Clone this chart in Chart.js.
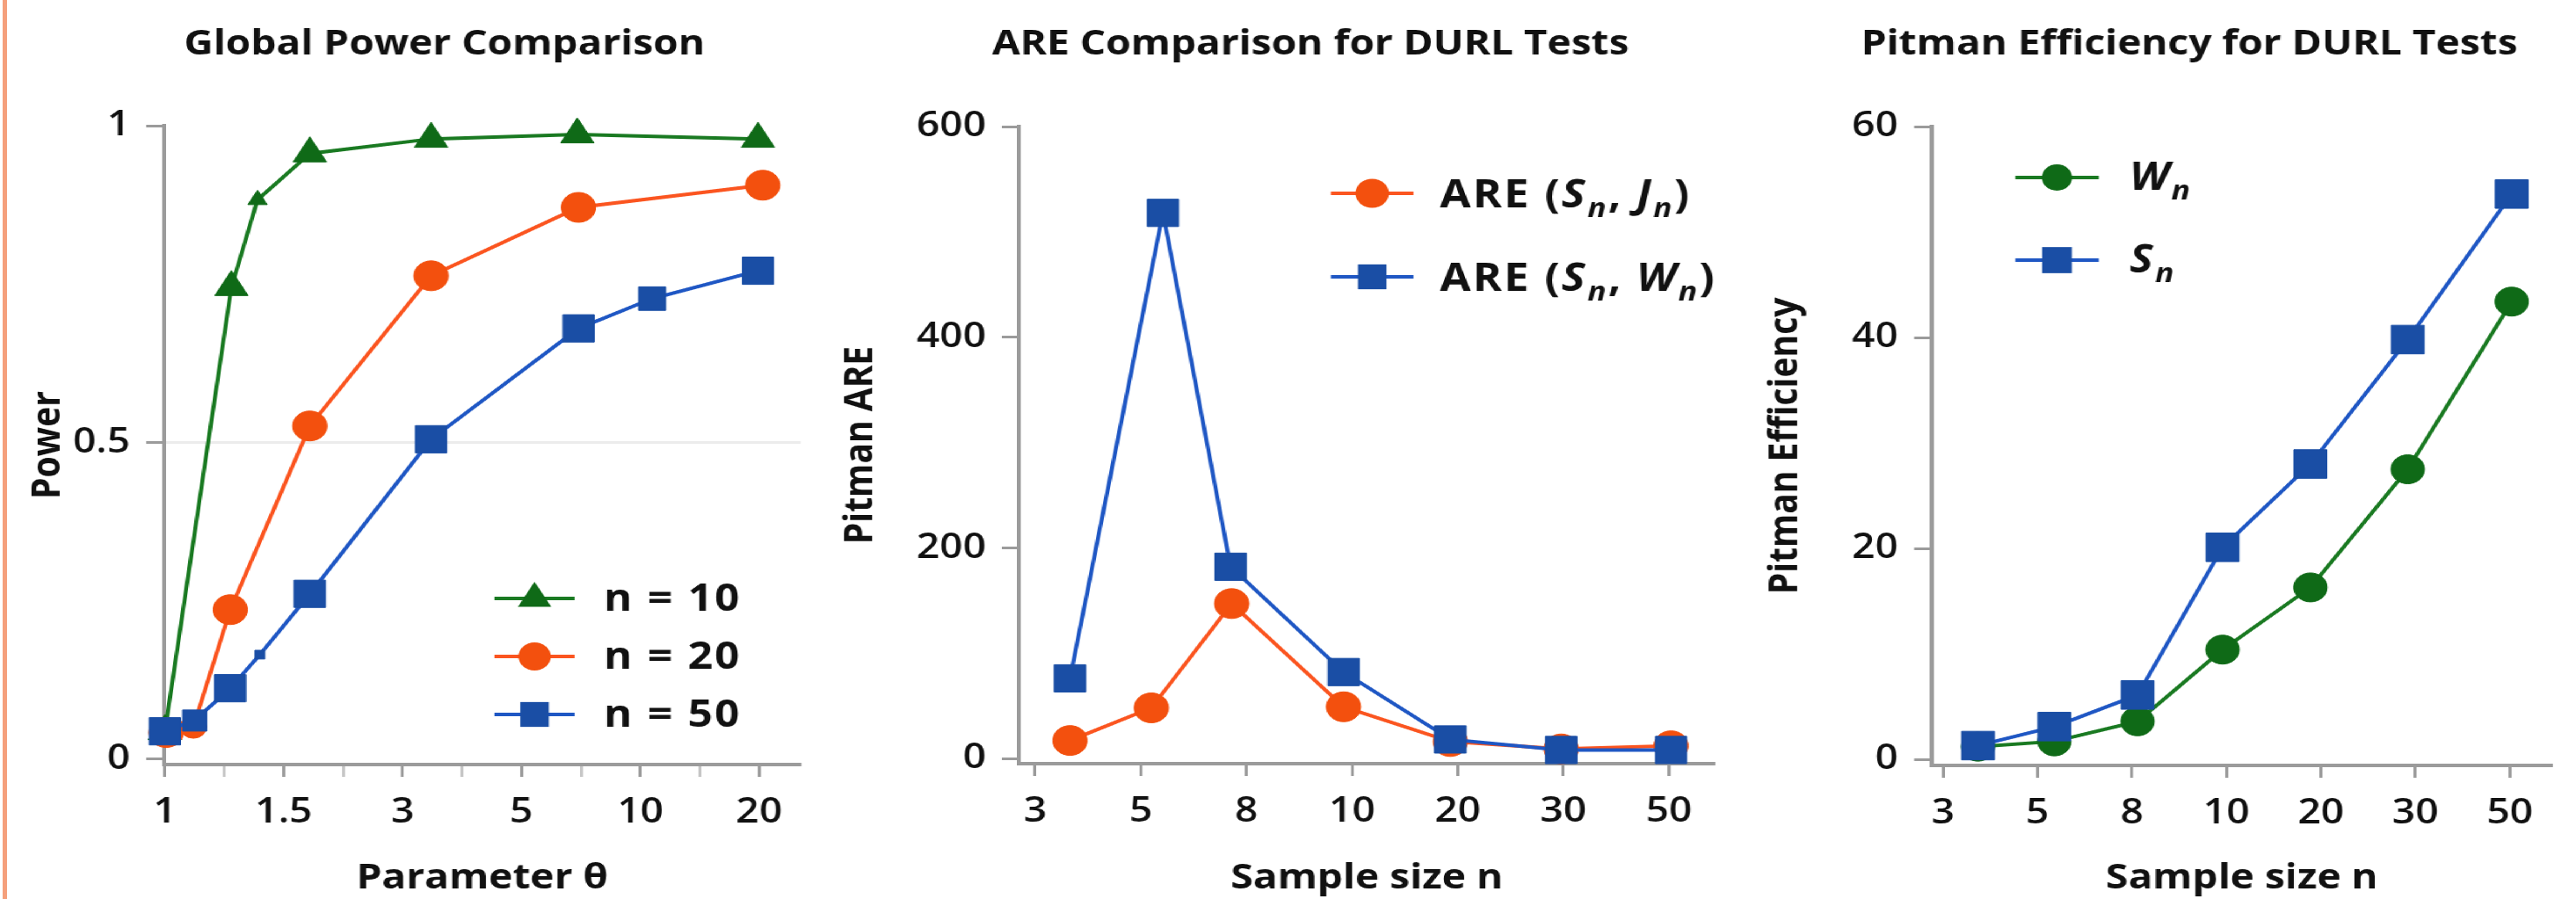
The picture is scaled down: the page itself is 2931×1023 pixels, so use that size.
<!DOCTYPE html>
<html>
<head>
<meta charset="utf-8">
<title>DURL tests: power and efficiency</title>
<script src="https://cdn.jsdelivr.net/npm/chart.js@4.4.1/dist/chart.umd.min.js"></script>
<style>
  html, body { margin: 0; padding: 0; background: #fff; overflow: hidden; }
  body { width: 2931px; height: 1023px; position: relative; }
  #edge { position: absolute; left: 3px; top: 0; width: 5px; height: 1023px; background: #f5a07c; }
  #stage { position: absolute; left: 0; top: 0; height: 1023px; transform-origin: 0 0; }
  .panel { position: absolute; top: 0; height: 1023px; }
</style>
</head>
<body>
<div id="stage"></div>
<div id="edge"></div>
<script>
// ---- values ----
var thetaLabels = ['1', '1.5', '3', '5', '10', '20'];
var sizeLabels = ['3', '5', '8', '10', '20', '30', '50'];
var powerTicks = [0, 0.5, 1];
var areTicks = [0, 200, 400, 600];
var effTicks = [0, 20, 40, 60];

// x = place along the tick ladder (0 = first label, 1 = second label, ...)
var power10X = [0, 0.56, 0.78, 1.22, 2.24, 3.47, 4.99];
var power10 = [0.044, 0.745, 0.883, 0.956, 0.979, 0.986, 0.979];
var power20X = [0.01, 0.24, 0.55, 1.22, 2.24, 3.48, 5.03];
var power20 = [0.042, 0.051, 0.236, 0.526, 0.763, 0.871, 0.906];
var power50X = [0, 0.25, 0.55, 0.8, 1.22, 2.24, 3.48, 4.1, 4.99];
var power50 = [0.044, 0.061, 0.112, 0.165, 0.261, 0.505, 0.68, 0.727, 0.771];

var areSJX = [0.33, 1.1, 1.86, 2.92, 3.93, 4.98, 6.02];
var areSJ = [17, 48, 147, 49, 16, 9, 12];
var areSWX = [0.33, 1.21, 1.85, 2.92, 3.93, 4.98, 6.02];
var areSW = [76, 518, 182, 82, 18, 8, 8];

var effX = [0.37, 1.18, 2.06, 2.96, 3.89, 4.92, 6.02];
var effW = [1.2, 1.7, 3.6, 10.4, 16.3, 27.5, 43.4];
var effS = [1.3, 3.1, 6.1, 20.1, 28, 39.8, 53.6];

var powerNames = ['n = 10', 'n = 20', 'n = 50'];
var areNames = ['ARE (S_n, J_n)', 'ARE (S_n, W_n)'];
var effNames = ['W_n', 'S_n'];

// ---- look ----
var S = 1.15;            // the reference is stretched sideways by about this much
var H = 1023;
var FONT = "'Open Sans', 'DejaVu Sans', sans-serif";
var INK = '#111111';
var AXIS = '#9b9b9b';
var GREEN = '#0f6a17', GREEN_LINE = '#1a7a22';
var ORANGE = '#f3500e', ORANGE_LINE = '#fb5520';
var BLUE = '#1a4ea5', BLUE_LINE = '#1f57c4';

function u(px) { return px / S; }

var stage = document.getElementById('stage');
stage.style.width = u(2931) + 'px';
stage.style.transform = 'scaleX(' + S + ')';

function drawMarker(ctx, style, x, y, r, color) {
  ctx.fillStyle = color;
  ctx.beginPath();
  if (style === 'rect') {
    var h = r * Math.SQRT1_2;
    ctx.rect(x - h, y - h, 2 * h, 2 * h);
  } else if (style === 'triangle') {
    ctx.moveTo(x, y - r);
    ctx.lineTo(x + r * 0.866, y + r / 2);
    ctx.lineTo(x - r * 0.866, y + r / 2);
    ctx.closePath();
  } else {
    ctx.arc(x, y, r, 0, Math.PI * 2);
  }
  ctx.fill();
}

// "S_n" -> italic S with italic subscript n
function drawRich(ctx, label, x, baseline, size) {
  var parts = label.split(/([A-Z])_(\w)/);
  var cx = x;
  ctx.fillStyle = INK;
  ctx.textAlign = 'left';
  ctx.textBaseline = 'alphabetic';
  if ('letterSpacing' in ctx) ctx.letterSpacing = '2px';
  for (var i = 0; i < parts.length; i++) {
    var kind = i % 3;
    var t = parts[i];
    if (!t) continue;
    var fs = kind === 2 ? size * 0.7 : size;
    ctx.font = (kind ? 'italic ' : '') + 'bold ' + fs + 'px ' + FONT;
    ctx.fillText(t, cx, baseline + (kind === 2 ? size * 0.26 : 0));
    cx += ctx.measureText(t).width;
  }
}

var panelTitle = {
  id: 'panelTitle',
  afterDraw: function (chart, args, o) {
    var ctx = chart.ctx;
    ctx.save();
    ctx.font = 'bold 40px ' + FONT;
    ctx.fillStyle = INK;
    ctx.textAlign = 'center';
    ctx.textBaseline = 'alphabetic';
    ctx.fillText(o.text, o.x, o.y);
    ctx.restore();
  }
};

var lineLegend = {
  id: 'lineLegend',
  afterDraw: function (chart, args, o) {
    var ctx = chart.ctx;
    chart.data.datasets.forEach(function (ds, row) {
      var y = o.y + row * o.gap;
      ctx.save();
      ctx.strokeStyle = ds.borderColor;
      ctx.lineWidth = 4;
      ctx.beginPath();
      ctx.moveTo(o.x, y);
      ctx.lineTo(o.x + o.len, y);
      ctx.stroke();
      drawMarker(ctx, ds.pointStyle, o.x + o.len / 2, y, o.r[row], ds.pointBackgroundColor);
      drawRich(ctx, ds.label, o.textX, y + o.base, o.size);
      ctx.restore();
    });
  }
};

function series(name, xs, ys, style, fill, line, radius, order) {
  return {
    label: name,
    data: xs.map(function (x, i) { return { x: x, y: ys[i] }; }),
    borderColor: line,
    backgroundColor: fill,
    pointBackgroundColor: fill,
    pointBorderColor: fill,
    borderWidth: 4,
    pointBorderWidth: 1,
    pointStyle: style,
    pointRadius: radius,
    pointHoverRadius: radius,
    tension: 0,
    clip: false,
    order: order
  };
}

function panel(p) {
  var box = document.createElement('div');
  box.className = 'panel';
  box.style.left = u(p.left) + 'px';
  box.style.width = u(p.width) + 'px';
  var canvas = document.createElement('canvas');
  box.appendChild(canvas);
  stage.appendChild(box);

  var tickFont = { family: FONT, size: 40, weight: '600' };

  return new Chart(canvas, {
    type: 'line',
    data: { datasets: p.datasets },
    options: {
      responsive: true,
      maintainAspectRatio: false,
      animation: false,
      events: [],
      layout: { padding: { top: p.top, right: u(p.left + p.width - p.right), bottom: 0, left: 0 } },
      plugins: {
        legend: { display: false },
        tooltip: { enabled: false },
        panelTitle: { text: p.title, x: u(p.titleX - p.left), y: 62 },
        lineLegend: {
          x: u(p.legend.x - p.left), len: u(p.legend.len), textX: u(p.legend.textX - p.left),
          y: p.legend.y, gap: p.legend.gap, base: p.legend.base, size: p.legend.size, r: p.legend.r
        }
      },
      scales: {
        x: {
          type: 'linear',
          bounds: 'data',
          min: p.xMin,
          max: p.xMax,
          afterFit: function (s) { s.height = H - p.bottom; },
          afterBuildTicks: function (s) { s.ticks = p.xTicks.map(function (v) { return { value: v }; }); },
          ticks: {
            autoSkip: false, maxRotation: 0, padding: 17, color: INK, font: tickFont,
            callback: function (v) { return Number.isInteger(v) ? p.xLabels[v] : ''; }
          },
          grid: {
            drawOnChartArea: false, tickLength: 14, tickWidth: 3,
            tickColor: function (c) { return c.tick && Number.isInteger(c.tick.value) ? AXIS : '#c6c6c6'; }
          },
          border: { color: AXIS, width: 4 },
          title: {
            display: true, text: p.xTitle, color: INK, padding: 0,
            font: { family: FONT, size: 40, weight: 'bold', lineHeight: 1.15 }
          }
        },
        y: {
          bounds: 'data',
          min: p.yMin,
          max: p.yMax,
          afterFit: function (s) { s.width = u(p.chartLeft - p.left); },
          afterBuildTicks: function (s) { s.ticks = p.yTicks.map(function (v) { return { value: v }; }); },
          ticks: { padding: u(18), color: INK, font: tickFont, callback: function (v) { return String(v); } },
          grid: {
            lineWidth: 3, tickLength: u(20), tickWidth: 3, tickColor: AXIS,
            color: function (c) { return p.midLine && c.tick && c.tick.value === p.midLine ? '#ececec' : 'rgba(0,0,0,0)'; }
          },
          border: { color: AXIS, width: 4 },
          title: {
            display: true, text: p.yTitle, color: INK,
            font: { family: FONT, size: 39, weight: 'bold', lineHeight: 1.2 },
            padding: { top: u(p.yTitleX - p.left) - 23.4, bottom: 0 }
          }
        }
      }
    },
    plugins: [panelTitle, lineLegend]
  });
}

var halfSteps = [];
thetaLabels.forEach(function (l, i) {
  halfSteps.push(i);
  if (i < thetaLabels.length - 1) halfSteps.push(i + 0.5);
});
var sizeSteps = sizeLabels.map(function (l, i) { return i; });

panel({
  left: 0, width: 977, chartLeft: 186, right: 910, top: 143, bottom: 870,
  title: 'Global Power Comparison', titleX: 505,
  xTitle: 'Parameter θ', yTitle: 'Power', yTitleX: 55,
  xMin: -0.01, xMax: 5.35, xTicks: halfSteps, xLabels: thetaLabels,
  yMin: -0.0085, yMax: 1, yTicks: powerTicks, midLine: 0.5,
  legend: { x: 562, len: 91, textX: 686, y: 681, gap: 66, base: 14, size: 43, r: [19, 16, 20] },
  datasets: [
    series(powerNames[0], power10X, power10, 'triangle', GREEN, GREEN_LINE, [19, 19, 11, 19, 19, 19, 19], 2),
    series(powerNames[1], power20X, power20, 'circle', ORANGE, ORANGE_LINE, [17, 13, 17, 17, 17, 17, 17], 1),
    series(powerNames[2], power50X, power50, 'rect', BLUE, BLUE_LINE, [22, 17, 22, 7, 22, 22, 22, 19, 22], 0)
  ]
});

panel({
  left: 940, width: 1040, chartLeft: 1160, right: 1950, top: 144, bottom: 869,
  title: 'ARE Comparison for DURL Tests', titleX: 1491,
  xTitle: 'Sample size n', yTitle: 'Pitman ARE', yTitleX: 980,
  xMin: -0.15, xMax: 6.43, xTicks: sizeSteps, xLabels: sizeLabels,
  yMin: -5, yMax: 600, yTicks: areTicks, midLine: null,
  legend: { x: 1514, len: 94, textX: 1638, y: 220, gap: 95, base: 16, size: 44, r: [16.5, 20] },
  datasets: [
    series(areNames[0], areSJX, areSJ, 'circle', ORANGE, ORANGE_LINE, 17, 1),
    series(areNames[1], areSWX, areSW, 'rect', BLUE, BLUE_LINE, 22, 0)
  ]
});

panel({
  left: 1990, width: 941, chartLeft: 2198, right: 2915, top: 144, bottom: 871,
  title: 'Pitman Efficiency for DURL Tests', titleX: 2491,
  xTitle: 'Sample size n', yTitle: 'Pitman Efficiency', yTitleX: 2032,
  xMin: -0.12, xMax: 6.45, xTicks: sizeSteps, xLabels: sizeLabels,
  yMin: -0.58, yMax: 60, yTicks: effTicks, midLine: null,
  legend: { x: 2293, len: 95, textX: 2423, y: 202, gap: 94, base: 14, size: 44, r: [15, 21] },
  datasets: [
    series(effNames[0], effX, effW, 'circle', GREEN, GREEN_LINE, 16.5, 1),
    series(effNames[1], effX, effS, 'rect', BLUE, BLUE_LINE, 23, 0)
  ]
});
</script>
</body>
</html>
